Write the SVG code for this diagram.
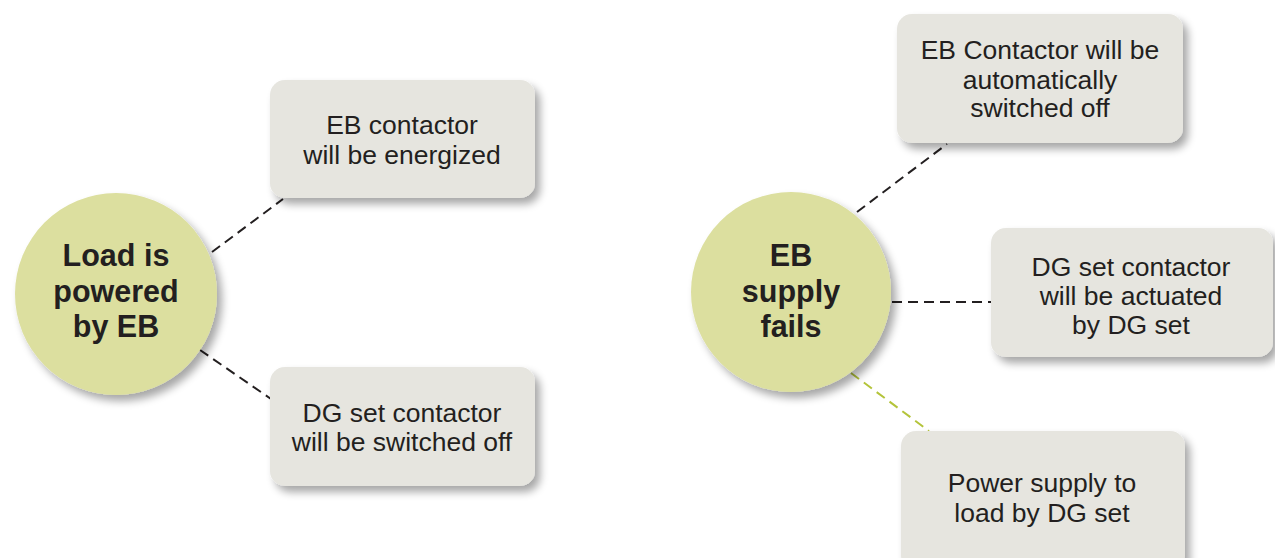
<svg xmlns="http://www.w3.org/2000/svg" width="1275" height="558" viewBox="0 0 1275 558">
<defs>
<filter id="sh" x="-20%" y="-20%" width="140%" height="150%">
<feGaussianBlur in="SourceAlpha" stdDeviation="4"/>
<feOffset dx="5" dy="6" result="b"/>
<feComponentTransfer><feFuncA type="linear" slope="0.35"/></feComponentTransfer>
<feMerge><feMergeNode/><feMergeNode in="SourceGraphic"/></feMerge>
</filter>
<style>
.hub{fill:#dcdf9f;filter:url(#sh)}
.box{fill:#e6e5df;filter:url(#sh)}
.ht{font-weight:bold;font-size:30.5px;fill:#231f20;text-anchor:middle}
.bt{font-size:26.5px;fill:#231f20;text-anchor:middle}
.c{stroke:#231f20;stroke-width:2;stroke-dasharray:10,6;fill:none}
.cg{stroke:#b4c43a;stroke-width:2;stroke-dasharray:10,6;fill:none}
</style>
</defs>
<rect width="1275" height="558" fill="#ffffff"/>
<g id="connectors">
<line class="c" x1="212" y1="252" x2="283" y2="199"/>
<line class="c" x1="200" y1="350" x2="271" y2="399"/>
<line class="c" x1="857" y1="212" x2="947" y2="144"/>
<line class="c" x1="892" y1="302" x2="991" y2="302"/>
<line class="cg" x1="851" y1="373" x2="929" y2="431"/>
</g>
<g font-family="Liberation Sans, Arimo, Arial, sans-serif">
<g id="hub-left">
<circle class="hub" cx="116" cy="294" r="101"/>
<text class="ht" x="116" y="266">Load is</text>
<text class="ht" x="116" y="302">powered</text>
<text class="ht" x="116" y="337">by EB</text>
</g>
<g id="hub-right">
<circle class="hub" cx="791" cy="292" r="100"/>
<text class="ht" x="791" y="266">EB</text>
<text class="ht" x="791" y="302">supply</text>
<text class="ht" x="791" y="337">fails</text>
</g>
<g id="box-eb-energized">
<rect class="box" x="270" y="80" width="265" height="118" rx="15"/>
<text class="bt" x="402" y="134">EB contactor</text>
<text class="bt" x="402" y="164">will be energized</text>
</g>
<g id="box-dg-off">
<rect class="box" x="270" y="367" width="265" height="119" rx="15"/>
<text class="bt" x="402" y="422">DG set contactor</text>
<text class="bt" x="402" y="451">will be switched off</text>
</g>
<g id="box-eb-auto-off">
<rect class="box" x="897" y="14" width="286" height="129" rx="15"/>
<text class="bt" x="1040" y="59">EB Contactor will be</text>
<text class="bt" x="1040" y="89">automatically</text>
<text class="bt" x="1040" y="117">switched off</text>
</g>
<g id="box-dg-actuated">
<rect class="box" x="991" y="228" width="282" height="129" rx="15"/>
<text class="bt" x="1131" y="276">DG set contactor</text>
<text class="bt" x="1131" y="305">will be actuated</text>
<text class="bt" x="1131" y="334">by DG set</text>
</g>
<g id="box-power-dg">
<rect class="box" x="901" y="431" width="284" height="140" rx="15"/>
<text class="bt" x="1042" y="492">Power supply to</text>
<text class="bt" x="1042" y="522">load by DG set</text>
</g>
</g>
</svg>
